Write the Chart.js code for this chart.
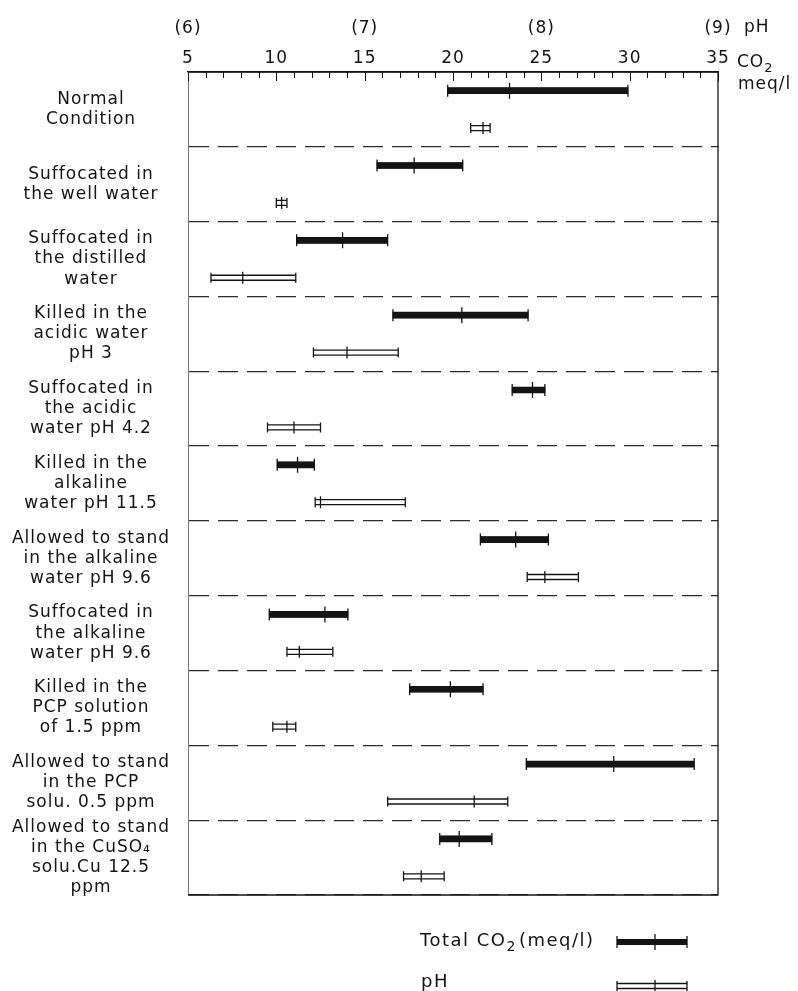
<!DOCTYPE html>
<html>
<head>
<meta charset="utf-8">
<script src="https://cdn.jsdelivr.net/npm/chart.js@4.4.0/dist/chart.umd.min.js"></script>
<style>
  html, body { margin: 0; padding: 0; background: #fff; }
  canvas { display: block; }
</style>
</head>
<body>
<canvas id="chart" width="798" height="991"></canvas>
<script>
const conditions = [
  ['Normal', 'Condition'],
  ['Suffocated in', 'the well water'],
  ['Suffocated in', 'the distilled', 'water'],
  ['Killed in the', 'acidic water', 'pH 3'],
  ['Suffocated in', 'the acidic', 'water pH 4.2'],
  ['Killed in the', 'alkaline', 'water pH 11.5'],
  ['Allowed to stand', 'in the alkaline', 'water pH 9.6'],
  ['Suffocated in', 'the alkaline', 'water pH 9.6'],
  ['Killed in the', 'PCP solution', 'of 1.5 ppm'],
  ['Allowed to stand', 'in the PCP', 'solu. 0.5 ppm'],
  ['Allowed to stand', 'in the CuSO₄', 'solu.Cu 12.5', 'ppm']
];

// total CO2 (meq/l): range and mean
const co2Low  = [19.7, 15.7, 11.15, 16.6, 23.35, 10.05, 21.55, 9.6, 17.55, 24.15, 19.25];
const co2High = [29.9, 20.55, 16.3, 24.25, 25.2, 12.15, 25.4, 14.05, 21.7, 33.65, 22.2];
const co2Mean = [23.2, 17.8, 13.75, 20.5, 24.5, 11.2, 23.55, 12.75, 19.85, 29.1, 20.35];

// pH: range and mean
const phLow  = [7.60, 6.50, 6.13, 6.71, 6.45, 6.72, 7.92, 6.56, 6.48, 7.13, 7.22];
const phHigh = [7.71, 6.56, 6.61, 7.19, 6.75, 7.23, 8.21, 6.82, 6.61, 7.81, 7.45];
const phMean = [7.67, 6.53, 6.31, 6.90, 6.60, 6.75, 8.02, 6.63, 6.56, 7.62, 7.32];

const co2Ticks = [5, 10, 15, 20, 25, 30, 35];
const phTicks = [6, 7, 8, 9];
const phTickLabels = ['(6)', '(7)', '(8)', '(9)'];

const INK = '#141414';
Chart.defaults.font.family = "'DejaVu Sans'";
Chart.defaults.font.size = 17;
Chart.defaults.color = INK;

// wide typewriter-like spacing of the original lettering
const spacing = {
  id: 'spacing',
  beforeUpdate(chart) { chart.ctx.letterSpacing = '1px'; },
  beforeDraw(chart) { chart.ctx.letterSpacing = '1px'; }
};

// CO2 with a real subscript 2
const drawSub = (ctx, base, sub, x, y, size) => {
  ctx.fillText(base, x, y);
  const w = ctx.measureText(base).width;
  ctx.save();
  ctx.font = Math.round(size * 0.76) + "px 'DejaVu Sans'";
  ctx.fillText(sub, x + w, y + 6);
  const ws = ctx.measureText(sub).width;
  ctx.restore();
  return w + ws;
};

const drawRangeBar = (ctx, x0, x1, xm, y, solid) => {
  ctx.save();
  ctx.strokeStyle = INK;
  ctx.fillStyle = INK;
  ctx.lineWidth = 1.3;
  if (solid) {
    ctx.fillRect(x0, y - 3, x1 - x0, 6);
  } else {
    ctx.beginPath();
    ctx.moveTo(x0, y - 2.5); ctx.lineTo(x1, y - 2.5);
    ctx.moveTo(x0, y + 2.5); ctx.lineTo(x1, y + 2.5);
    ctx.stroke();
  }
  const cap = solid ? 12 : 10;
  const mh = solid ? 16 : 12;
  ctx.beginPath();
  [x0, x1].forEach(px => { ctx.moveTo(px, y - cap / 2); ctx.lineTo(px, y + cap / 2); });
  ctx.moveTo(xm, y - mh / 2); ctx.lineTo(xm, y + mh / 2);
  ctx.stroke();
  ctx.restore();
};

const decorations = {
  id: 'decorations',
  afterDatasetsDraw(chart) {
    const ctx = chart.ctx;
    // end caps and mean marks
    chart.data.datasets.forEach((ds, di) => {
      const meta = chart.getDatasetMeta(di);
      const xs = chart.scales[ds.xAxisID];
      meta.data.forEach((bar, i) => {
        const p = bar.getProps(['x', 'y', 'base'], true);
        const x0 = Math.min(p.x, p.base), x1 = Math.max(p.x, p.base);
        drawRangeBar(ctx, x0, x1, xs.getPixelForValue(ds.means[i]), p.y, di === 0);
      });
    });
  },
  afterDraw(chart) {
    const ctx = chart.ctx;
    const a = chart.chartArea;
    const xs = chart.scales.x;
    ctx.save();
    ctx.strokeStyle = INK;
    ctx.lineWidth = 1.3;
    ctx.beginPath();
    ctx.moveTo(a.left, a.top); ctx.lineTo(a.right, a.top);
    ctx.lineTo(a.right, a.bottom); ctx.lineTo(a.left, a.bottom);
    ctx.stroke();
    // small ticks hanging from the top border, one per meq/l
    ctx.lineWidth = 1;
    ctx.beginPath();
    for (let v = xs.min; v <= xs.max; v++) {
      const px = Math.round(xs.getPixelForValue(v)) + 0.5;
      const len = v % 5 === 0 ? 9 : 6;
      ctx.moveTo(px, a.top); ctx.lineTo(px, a.top + len);
    }
    ctx.stroke();

    // axis names on the right
    ctx.fillStyle = INK;
    ctx.font = "17px 'DejaVu Sans'";
    ctx.textBaseline = 'middle';
    ctx.textAlign = 'left';
    ctx.fillText('pH', a.right + 26, 28);
    drawSub(ctx, 'CO', '2', a.right + 19, 63, 17);
    ctx.fillText('meq/l', a.right + 20, 85);

    // legend
    const lx = 420, sx0 = 617, sx1 = 687, sxm = 655;
    ctx.font = "18px 'DejaVu Sans'";
    ctx.letterSpacing = '1.5px';
    const w = drawSub(ctx, 'Total CO', '2', lx, 941, 18);
    ctx.fillText('(meq/l)', lx + w + 2, 941);
    drawRangeBar(ctx, sx0, sx1, sxm, 942, true);
    ctx.fillText('pH', lx + 1, 982);
    drawRangeBar(ctx, sx0, sx1, sxm, 986, false);
    ctx.restore();
  }
};

new Chart(document.getElementById('chart'), {
  type: 'bar',
  data: {
    labels: conditions,
    datasets: [
      {
        label: 'Total CO₂ (meq/l)',
        data: co2Low.map((v, i) => [v, co2High[i]]),
        means: co2Mean,
        xAxisID: 'x',
        backgroundColor: INK,
        borderWidth: 0,
        maxBarThickness: 6,
        categoryPercentage: 1,
        barPercentage: 1
      },
      {
        label: 'pH',
        data: phLow.map((v, i) => [v, phHigh[i]]),
        means: phMean,
        xAxisID: 'xPH',
        backgroundColor: 'rgba(255,255,255,0)',
        borderWidth: 0,
        maxBarThickness: 6,
        categoryPercentage: 1,
        barPercentage: 1
      }
    ]
  },
  options: {
    indexAxis: 'y',
    responsive: false,
    animation: false,
    layout: { padding: { left: 0, right: 80, top: 0, bottom: 96 } },
    plugins: { legend: { display: false }, tooltip: { enabled: false } },
    scales: {
      y: {
        type: 'category',
        grid: { offset: true, color: '#2a2a2a', lineWidth: 1.2, drawTicks: false },
        border: { display: true, color: '#777', width: 1, dash: [20, 9] },
        ticks: {
          autoSkip: false,
          crossAlign: 'center',
          padding: 18,
          font: { size: 17, lineHeight: 1.18 }
        },
        afterFit: s => { s.width = 188; }
      },
      x: {
        type: 'linear',
        position: 'top',
        min: 5,
        max: 35,
        weight: 0,
        afterBuildTicks: s => { s.ticks = co2Ticks.map(v => ({ value: v })); },
        grid: { display: false, drawTicks: false },
        border: { display: true, color: INK, width: 1.3 },
        ticks: { padding: 4, font: { size: 17, lineHeight: 1.15 } },
        afterFit: s => { s.height = 30; }
      },
      xPH: {
        type: 'linear',
        position: 'top',
        min: 6,
        max: 9,
        weight: 1,
        afterBuildTicks: s => { s.ticks = phTicks.map(v => ({ value: v })); },
        grid: { display: false, drawTicks: false },
        border: { display: false },
        ticks: {
          padding: 4,
          font: { size: 17, lineHeight: 1.15 },
          callback: (v, i) => phTickLabels[i]
        },
        afterFit: s => { s.height = 42; }
      }
    }
  },
  plugins: [spacing, decorations]
});
</script>
</body>
</html>
